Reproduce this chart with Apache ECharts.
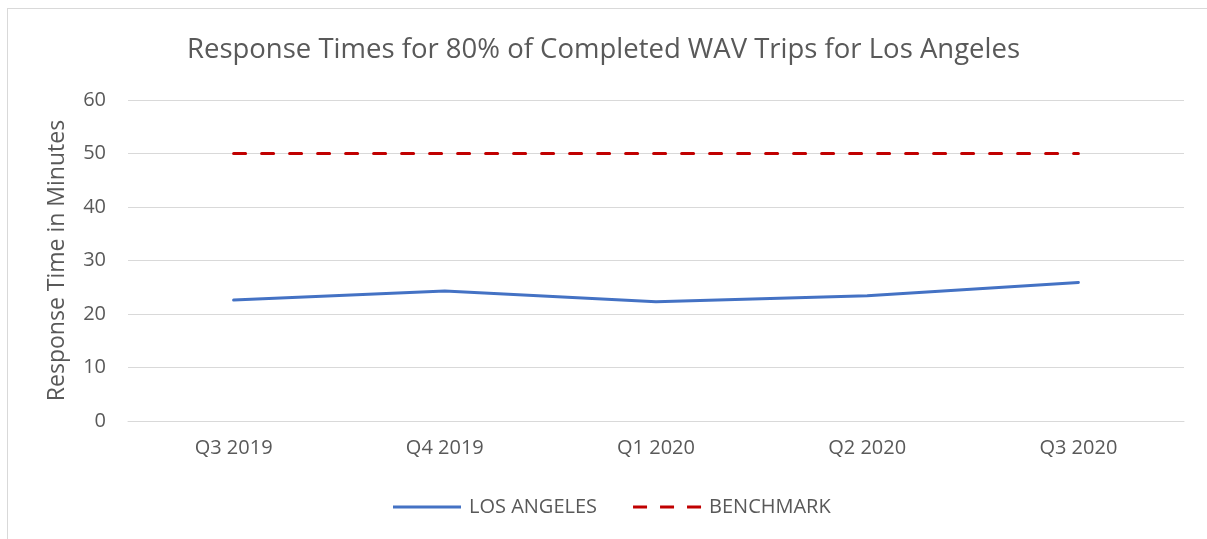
<!DOCTYPE html>
<html>
<head>
<meta charset="utf-8">
<script src="https://cdn.jsdelivr.net/npm/echarts@6/dist/echarts.min.js"></script>
<style>
  html, body { margin: 0; padding: 0; background: #fff; }
  #frame { position: absolute; left: 7px; top: 8px; width: 1200px; height: 531px;
           border-top: 1px solid #d9d9d9; border-left: 1px solid #d9d9d9; }
  #chart { position: absolute; left: 0; top: 0; width: 1207px; height: 539px; }
</style>
</head>
<body>
<div id="frame"></div>
<div id="chart"></div>
<script>
const quarters = ["Q3 2019", "Q4 2019", "Q1 2020", "Q2 2020", "Q3 2020"];
const losAngeles = [22.6, 24.3, 22.3, 23.4, 25.9];
const benchmark = [50, 50, 50, 50, 50];

const font = '"Open Sans", "Noto Sans", sans-serif';
const grey = "#595959";

// legend glyphs: solid bar and three dashes, like the Excel legend
const solidIcon = "path://M0,0h68v3h-68z";
const dashIcon = "path://M0,0h14v3h-14z M27,0h14v3h-14z M54,0h14v3h-14z";

const chart = echarts.init(document.getElementById("chart"), null, { renderer: "canvas" });

chart.setOption({
  animation: false,
  textStyle: { fontFamily: font },
  title: {
    text: "Response Times for 80% of Completed WAV Trips for Los Angeles",
    left: "center",
    top: 31,
    textStyle: { color: grey, fontSize: 27.5, fontWeight: "normal", fontFamily: font },
  },
  grid: { left: 128, right: 23, top: 100, bottom: 118 },
  legend: {
    bottom: 17,
    left: 388,
    itemWidth: 68,
    itemHeight: 3,
    itemGap: 36,
    textStyle: { color: grey, fontSize: 20, fontFamily: font, padding: [0, 0, 0, 3] },
    data: [
      { name: "LOS ANGELES", icon: solidIcon, itemStyle: { color: "#4472C4" } },
      { name: "BENCHMARK", icon: dashIcon, itemStyle: { color: "#C00000" } },
    ],
  },
  xAxis: {
    type: "category",
    data: quarters,
    axisLine: { lineStyle: { color: "#d9d9d9", width: 1 } },
    axisTick: { show: false },
    axisLabel: { color: grey, fontSize: 20, margin: 17, fontFamily: font },
  },
  yAxis: {
    type: "value",
    min: 0,
    max: 60,
    interval: 10,
    name: "Response Time in Minutes",
    nameLocation: "middle",
    nameGap: 59,
    nameTextStyle: { color: grey, fontSize: 23, fontFamily: font },
    axisLine: { show: false },
    axisTick: { show: false },
    axisLabel: { color: grey, fontSize: 20, margin: 22, fontFamily: font },
    splitLine: { lineStyle: { color: "#d9d9d9", width: 1 } },
  },
  series: [
    {
      name: "LOS ANGELES",
      type: "line",
      data: losAngeles,
      symbol: "none",
      lineStyle: { color: "#4472C4", width: 3, cap: "round" },
      itemStyle: { color: "#4472C4" },
    },
    {
      name: "BENCHMARK",
      type: "line",
      data: benchmark,
      symbol: "none",
      lineStyle: { color: "#C00000", width: 3, type: [12, 16], cap: "round" },
      itemStyle: { color: "#C00000" },
    },
  ],
});
</script>
</body>
</html>
